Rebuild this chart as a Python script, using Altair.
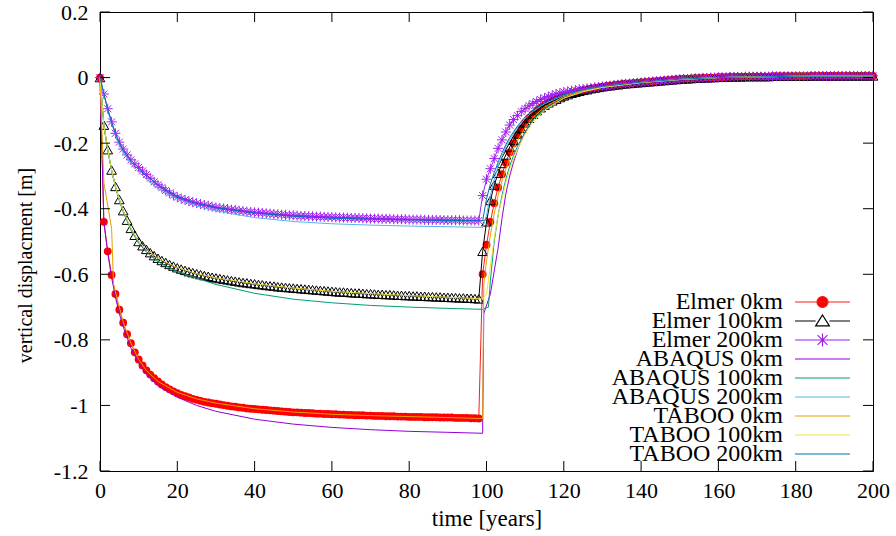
import altair as alt
import pandas as pd

FONT = "Liberation Serif"

# time grid of the Elmer runs (one output per year)
years = list(range(0, 201))

elmer_0km = [
    0.000, -0.440, -0.530, -0.602, -0.660, -0.708, -0.748, -0.783, -0.810, -0.838,
    -0.860, -0.878, -0.893, -0.906, -0.917, -0.927, -0.936, -0.944, -0.951, -0.957,
    -0.963, -0.968, -0.972, -0.976, -0.980, -0.983, -0.986, -0.989, -0.991, -0.993,
    -0.995, -0.997, -0.999, -1.001, -1.003, -1.004, -1.006, -1.007, -1.009, -1.010,
    -1.011, -1.012, -1.013, -1.014, -1.015, -1.016, -1.017, -1.018, -1.019, -1.020,
    -1.021, -1.021, -1.022, -1.023, -1.023, -1.024, -1.025, -1.025, -1.026, -1.026,
    -1.027, -1.027, -1.028, -1.028, -1.029, -1.029, -1.030, -1.030, -1.030, -1.031,
    -1.031, -1.032, -1.032, -1.032, -1.033, -1.033, -1.033, -1.034, -1.034, -1.034,
    -1.035, -1.035, -1.035, -1.035, -1.036, -1.036, -1.036, -1.036, -1.037, -1.037,
    -1.037, -1.037, -1.038, -1.038, -1.038, -1.038, -1.039, -1.039, -1.040, -0.600,
    -0.510, -0.440, -0.383, -0.335, -0.295, -0.260, -0.228, -0.200, -0.176, -0.155,
    -0.138, -0.124, -0.112, -0.101, -0.092, -0.084, -0.077, -0.071, -0.066, -0.061,
    -0.056, -0.052, -0.048, -0.045, -0.042, -0.039, -0.037, -0.034, -0.032, -0.030,
    -0.028, -0.026, -0.025, -0.023, -0.022, -0.020, -0.019, -0.018, -0.017, -0.016,
    -0.015, -0.014, -0.013, -0.012, -0.011, -0.010, -0.009, -0.008, -0.007, -0.006,
    -0.005, -0.004, -0.004, -0.003, -0.002, -0.002, -0.001, -0.001, 0.000, 0.000,
    0.001, 0.001, 0.001, 0.002, 0.002, 0.002, 0.002, 0.003, 0.003, 0.003,
    0.003, 0.003, 0.003, 0.003, 0.004, 0.004, 0.004, 0.004, 0.004, 0.004,
    0.004, 0.004, 0.004, 0.004, 0.005, 0.005, 0.005, 0.005, 0.005, 0.005,
    0.005, 0.005, 0.005, 0.005, 0.005, 0.005, 0.005, 0.005, 0.005, 0.005,
    0.005,
]

elmer_100km = [
    0.000, -0.145, -0.220, -0.282, -0.332, -0.372, -0.406, -0.435, -0.460, -0.481,
    -0.500, -0.513, -0.524, -0.534, -0.543, -0.551, -0.558, -0.564, -0.570, -0.575,
    -0.580, -0.584, -0.588, -0.592, -0.595, -0.598, -0.601, -0.604, -0.606, -0.609,
    -0.611, -0.613, -0.615, -0.617, -0.619, -0.621, -0.623, -0.625, -0.626, -0.628,
    -0.629, -0.631, -0.632, -0.634, -0.635, -0.636, -0.638, -0.639, -0.640, -0.641,
    -0.642, -0.643, -0.644, -0.645, -0.646, -0.647, -0.648, -0.649, -0.650, -0.651,
    -0.652, -0.653, -0.654, -0.654, -0.655, -0.656, -0.657, -0.657, -0.658, -0.659,
    -0.659, -0.660, -0.661, -0.661, -0.662, -0.662, -0.663, -0.664, -0.664, -0.665,
    -0.665, -0.666, -0.666, -0.667, -0.667, -0.668, -0.668, -0.669, -0.669, -0.670,
    -0.670, -0.671, -0.671, -0.672, -0.672, -0.673, -0.673, -0.674, -0.675, -0.530,
    -0.440, -0.375, -0.328, -0.292, -0.262, -0.236, -0.212, -0.191, -0.172, -0.155,
    -0.138, -0.124, -0.112, -0.101, -0.092, -0.084, -0.077, -0.071, -0.066, -0.061,
    -0.056, -0.052, -0.048, -0.045, -0.042, -0.039, -0.037, -0.034, -0.032, -0.030,
    -0.028, -0.026, -0.025, -0.023, -0.022, -0.020, -0.019, -0.018, -0.017, -0.016,
    -0.015, -0.014, -0.013, -0.012, -0.011, -0.010, -0.009, -0.008, -0.007, -0.006,
    -0.005, -0.004, -0.004, -0.003, -0.002, -0.002, -0.001, -0.001, 0.000, 0.000,
    0.001, 0.001, 0.001, 0.002, 0.002, 0.002, 0.002, 0.003, 0.003, 0.003,
    0.003, 0.003, 0.003, 0.003, 0.004, 0.004, 0.004, 0.004, 0.004, 0.004,
    0.004, 0.004, 0.004, 0.004, 0.005, 0.005, 0.005, 0.005, 0.005, 0.005,
    0.005, 0.005, 0.005, 0.005, 0.005, 0.005, 0.005, 0.005, 0.005, 0.005,
    0.005,
]

elmer_200km = [
    0.000, -0.050, -0.095, -0.135, -0.170, -0.197, -0.218, -0.236, -0.251, -0.263,
    -0.274, -0.285, -0.296, -0.307, -0.318, -0.327, -0.336, -0.344, -0.352, -0.359,
    -0.365, -0.369, -0.373, -0.377, -0.380, -0.383, -0.386, -0.389, -0.391, -0.394,
    -0.396, -0.398, -0.399, -0.401, -0.403, -0.404, -0.406, -0.407, -0.409, -0.410,
    -0.411, -0.412, -0.413, -0.414, -0.415, -0.416, -0.417, -0.418, -0.419, -0.420,
    -0.420, -0.421, -0.422, -0.422, -0.423, -0.423, -0.424, -0.424, -0.425, -0.425,
    -0.426, -0.426, -0.427, -0.427, -0.427, -0.428, -0.428, -0.428, -0.429, -0.429,
    -0.430, -0.430, -0.430, -0.431, -0.431, -0.431, -0.432, -0.432, -0.432, -0.432,
    -0.433, -0.433, -0.433, -0.433, -0.434, -0.434, -0.434, -0.434, -0.434, -0.435,
    -0.435, -0.435, -0.435, -0.435, -0.436, -0.436, -0.436, -0.436, -0.436, -0.360,
    -0.310, -0.278, -0.247, -0.216, -0.190, -0.166, -0.145, -0.128, -0.116, -0.104,
    -0.095, -0.086, -0.079, -0.073, -0.067, -0.062, -0.058, -0.054, -0.050, -0.047,
    -0.044, -0.042, -0.040, -0.038, -0.036, -0.035, -0.033, -0.032, -0.030, -0.029,
    -0.027, -0.026, -0.025, -0.023, -0.022, -0.020, -0.019, -0.018, -0.017, -0.016,
    -0.015, -0.014, -0.013, -0.012, -0.011, -0.010, -0.009, -0.008, -0.007, -0.006,
    -0.005, -0.004, -0.004, -0.003, -0.002, -0.002, -0.001, -0.001, 0.000, 0.000,
    0.001, 0.001, 0.001, 0.002, 0.002, 0.002, 0.002, 0.003, 0.003, 0.003,
    0.003, 0.003, 0.003, 0.003, 0.004, 0.004, 0.004, 0.004, 0.004, 0.004,
    0.004, 0.004, 0.004, 0.004, 0.005, 0.005, 0.005, 0.005, 0.005, 0.005,
    0.005, 0.005, 0.005, 0.005, 0.005, 0.005, 0.005, 0.005, 0.005, 0.005,
    0.005,
]

assert len(elmer_0km) == len(elmer_100km) == len(elmer_200km) == len(years)

# ABAQUS reference solutions
abaqus_0km_t = [0, 1, 2, 3, 4, 5, 6, 8, 10, 12, 15, 20, 25, 30, 40, 50, 60, 70, 80, 90, 99,
                99.3, 101, 102, 103, 104, 105, 106, 107, 108, 109, 110, 112, 115, 120, 125,
                130, 140, 150, 160, 180, 200]
abaqus_0km = [0.0, -0.44, -0.535, -0.61, -0.67, -0.72, -0.76, -0.825, -0.87, -0.905, -0.94,
              -0.975, -1.0, -1.018, -1.042, -1.057, -1.067, -1.074, -1.079, -1.082, -1.085,
              -0.72, -0.66, -0.59, -0.52, -0.43, -0.355, -0.30, -0.258, -0.222, -0.192, -0.167,
              -0.13, -0.095, -0.062, -0.042, -0.03, -0.015, -0.006, 0.0, 0.004, 0.005]

abaqus_100km_t = [0, 1, 2, 3, 4, 5, 6, 8, 10, 12, 15, 20, 25, 30, 40, 50, 60, 70, 80, 90, 99,
                  100.5, 101, 102, 103, 104, 105, 106, 107, 108, 110, 112, 115, 120, 125, 130,
                  140, 150, 160, 180, 200]
abaqus_100km = [0.0, -0.147, -0.222, -0.285, -0.335, -0.376, -0.41, -0.465, -0.505, -0.532,
                -0.562, -0.592, -0.612, -0.631, -0.658, -0.676, -0.687, -0.695, -0.70, -0.704,
                -0.707, -0.70, -0.62, -0.50, -0.42, -0.36, -0.31, -0.27, -0.238, -0.21, -0.165,
                -0.13, -0.095, -0.062, -0.042, -0.03, -0.015, -0.006, 0.0, 0.004, 0.005]

abaqus_200km_t = [0, 1, 2, 3, 4, 5, 6, 8, 10, 12, 15, 20, 25, 30, 40, 50, 60, 70, 80, 90, 99,
                  100, 101, 102, 103, 104, 105, 106, 108, 110, 112, 115, 120, 125, 130, 140,
                  150, 160, 180, 200]
abaqus_200km = [0.0, -0.05, -0.10, -0.14, -0.175, -0.205, -0.228, -0.263, -0.288, -0.31, -0.338,
                -0.37, -0.392, -0.407, -0.427, -0.439, -0.446, -0.45, -0.453, -0.455, -0.457,
                -0.42, -0.36, -0.31, -0.27, -0.24, -0.212, -0.19, -0.152, -0.125, -0.103, -0.08,
                -0.054, -0.038, -0.028, -0.015, -0.006, 0.0, 0.004, 0.005]

# TABOO reference solutions
taboo_0km_t = [0, 1, 3, 3.5, 5, 6, 8, 10, 12, 15, 20, 25, 30, 40, 50, 60, 70, 80, 90, 99,
               99.3, 100, 101, 102, 103, 104, 105, 106, 107, 108, 110, 112, 115, 120, 125,
               130, 140, 150, 160, 180, 200]
taboo_0km = [0.0, -0.32, -0.46, -0.63, -0.70, -0.745, -0.81, -0.86, -0.893, -0.927, -0.96,
             -0.98, -0.993, -1.01, -1.02, -1.027, -1.031, -1.034, -1.037, -1.04,
             -0.63, -0.56, -0.48, -0.415, -0.36, -0.315, -0.278, -0.245, -0.217, -0.193,
             -0.152, -0.122, -0.09, -0.058, -0.04, -0.028, -0.015, -0.005, 0.0, 0.004, 0.005]

taboo_100km_t = [0, 1, 2, 3, 4, 5, 6, 8, 10, 12, 15, 20, 25, 30, 40, 50, 60, 70, 80, 90, 99,
                 100, 101, 102, 103, 104, 105, 106, 107, 108, 110, 112, 115, 120, 125, 130,
                 140, 150, 160, 180, 200]
taboo_100km = [0.0, -0.145, -0.22, -0.282, -0.332, -0.372, -0.406, -0.46, -0.50, -0.524, -0.551,
               -0.58, -0.598, -0.611, -0.629, -0.642, -0.652, -0.659, -0.665, -0.67, -0.675,
               -0.66, -0.575, -0.49, -0.42, -0.37, -0.32, -0.28, -0.248, -0.22, -0.172, -0.136,
               -0.099, -0.063, -0.043, -0.03, -0.015, -0.006, 0.0, 0.004, 0.005]

taboo_200km_t = [0, 1, 2, 3, 4, 5, 6, 8, 10, 12, 15, 20, 25, 30, 40, 50, 60, 70, 80, 90, 99,
                 100, 101, 102, 103, 104, 105, 106, 108, 110, 112, 115, 120, 125, 130, 140,
                 150, 160, 180, 200]
taboo_200km = [0.0, -0.05, -0.097, -0.137, -0.172, -0.20, -0.222, -0.256, -0.28, -0.30, -0.327,
               -0.362, -0.383, -0.397, -0.413, -0.423, -0.429, -0.432, -0.434, -0.436, -0.437,
               -0.37, -0.325, -0.29, -0.258, -0.23, -0.205, -0.183, -0.148, -0.12, -0.099,
               -0.077, -0.052, -0.037, -0.027, -0.014, -0.005, 0.0, 0.004, 0.005]

series_names = ["Elmer 0km", "Elmer 100km", "Elmer 200km",
                "ABAQUS 0km", "ABAQUS 100km", "ABAQUS 200km",
                "TABOO 0km", "TABOO 100km", "TABOO 200km"]
series_colors = ["#f02020", "#000000", "#a020f0",
                 "#9400d3", "#009e73", "#56b4e9",
                 "#e69f00", "#f0e442", "#0072b2"]

x_ticks = [0, 20, 40, 60, 80, 100, 120, 140, 160, 180, 200]
y_ticks = [0.2, 0.0, -0.2, -0.4, -0.6, -0.8, -1.0, -1.2]

series_data = [
    (years, elmer_0km), (years, elmer_100km), (years, elmer_200km),
    (abaqus_0km_t, abaqus_0km), (abaqus_100km_t, abaqus_100km), (abaqus_200km_t, abaqus_200km),
    (taboo_0km_t, taboo_0km), (taboo_100km_t, taboo_100km), (taboo_200km_t, taboo_200km),
]

rows = []
for name, (ts, vs) in zip(series_names, series_data):
    for t, v in zip(ts, vs):
        rows.append({"series": name, "t": t, "v": v})
df = pd.DataFrame(rows)

W, H = 773, 459
TICK = 10

x_scale = alt.Scale(domain=[0, 200], nice=False, zero=False)
y_scale = alt.Scale(domain=[-1.2, 0.2], nice=False, zero=False)

x_axis = alt.Axis(
    values=x_ticks, title="time [years]", grid=False, domain=False, ticks=False,
    labelFont=FONT, labelFontSize=22, labelColor="black", labelPadding=9,
    labelFlush=False, labelOverlap=False, format="d",
    titleFont=FONT, titleFontSize=23, titleFontWeight="normal", titleColor="black",
    titlePadding=6,
)
y_axis = alt.Axis(
    values=y_ticks, title="vertical displacment [m]", grid=False, domain=False, ticks=False,
    labelFont=FONT, labelFontSize=22, labelColor="black", labelPadding=12,
    labelFlush=False, labelOverlap=False,
    labelExpr="datum.value < 0 ? '-' + format(-datum.value, '~g') : format(datum.value, '~g')",
    titleFont=FONT, titleFontSize=20, titleFontWeight="normal", titleColor="black",
    titleAngle=270, titleAlign="center", titleBaseline="middle", titleX=-75, titleY=253,
)

X = alt.X("t:Q", scale=x_scale, axis=x_axis)
Y = alt.Y("v:Q", scale=y_scale, axis=y_axis)


def curve(name, color):
    return (
        alt.Chart()
        .transform_filter(alt.datum.series == name)
        .mark_line(color=color, strokeWidth=1)
        .encode(x=X, y=Y)
    )


def markers(name, **mark_kw):
    return (
        alt.Chart()
        .transform_filter(alt.datum.series == name)
        .mark_point(opacity=1, **mark_kw)
        .encode(x=X, y=Y)
    )


star_path = "M-1,0H1M0,-1V1M-0.7,-0.7L0.7,0.7M-0.7,0.7L0.7,-0.7"

layers = [
    curve("Elmer 0km", series_colors[0]),
    markers("Elmer 0km", shape="circle", filled=True, size=62, color="#ff0000", strokeWidth=0),
    curve("Elmer 100km", series_colors[1]),
    markers("Elmer 100km", shape="triangle-up", filled=False, size=95, color="#000000", strokeWidth=1),
    curve("Elmer 200km", series_colors[2]),
    markers("Elmer 200km", shape=star_path, filled=False, size=100, color="#a020f0", strokeWidth=1),
]
for name, color in zip(series_names[3:], series_colors[3:]):
    layers.append(curve(name, color))

# inward tick marks on all four sides of the frame
xt = pd.DataFrame({"t": x_ticks})
yt = pd.DataFrame({"v": y_ticks})
layers += [
    alt.Chart(xt).mark_rule(color="black", strokeWidth=1).encode(x=X, y=alt.value(H), y2=alt.value(H - TICK)),
    alt.Chart(xt).mark_rule(color="black", strokeWidth=1).encode(x=X, y=alt.value(0), y2=alt.value(TICK)),
    alt.Chart(yt).mark_rule(color="black", strokeWidth=1).encode(y=Y, x=alt.value(0), x2=alt.value(TICK)),
    alt.Chart(yt).mark_rule(color="black", strokeWidth=1).encode(y=Y, x=alt.value(W), x2=alt.value(W - TICK)),
]

# key, part one: line samples with the point style of each series
legend_paths = [
    "M-1,0H1M0.2,0A0.2,0.2,0,1,1,-0.2,0A0.2,0.2,0,1,1,0.2,0Z",
    "M-1,0H-0.25M0.25,0H1M0,-0.22L0.25,0.18L-0.25,0.18Z",
    "M-1,0H1M0,-0.24V0.24M-0.18,-0.18L0.18,0.18M-0.18,0.18L0.18,-0.18",
] + ["M-1,0H1"] * 6
legend_fill = ["#ff0000", "#ffffff", "#a020f0"] + series_colors[3:]

KEY_FONT = 24
common = dict(
    title=None, orient="none", legendX=477, legendY=283, padding=0,
    labelFont=FONT, labelFontSize=KEY_FONT, labelLimit=400, symbolSize=3025,
    symbolStrokeWidth=1.2, clipHeight=14, rowPadding=-5.25,
)
key_symbols = alt.Legend(symbolOffset=217, labelOpacity=0, **common)
# key, part two: right-aligned names to the left of the samples
key_names = alt.Legend(symbolOffset=0, symbolOpacity=0, labelAlign="right", labelOffset=149,
                       labelColor="black", labelExpr="trim(datum.label)", **common)

# the name entries carry a trailing blank so that the two keys stay separate
name_entries = [n + " " for n in series_names]
legend_df = pd.DataFrame({"series": series_names, "entry": name_entries})
layers.append(
    alt.Chart(legend_df)
    .mark_point(filled=True, opacity=1, clip=True, size=3025)
    .encode(
        x=alt.value(-400),
        y=alt.value(-400),
        fill=alt.Fill("series:N", scale=alt.Scale(domain=series_names, range=legend_fill), legend=key_symbols),
        stroke=alt.Stroke("series:N", scale=alt.Scale(domain=series_names, range=series_colors), legend=key_symbols),
        shape=alt.Shape("series:N", scale=alt.Scale(domain=series_names, range=legend_paths), legend=key_symbols),
    )
)
layers.append(
    alt.Chart(legend_df)
    .mark_point(filled=True, opacity=1, clip=True, size=3025)
    .encode(
        x=alt.value(-400),
        y=alt.value(-400),
        color=alt.Color("entry:N", scale=alt.Scale(domain=name_entries, range=["#000000"] * 9), legend=key_names),
    )
)

chart = (
    alt.layer(*layers, data=df)
    .properties(
        width=W,
        height=H,
        autosize=alt.AutoSizeParams(type="none"),
        padding={"left": 100, "top": 12, "right": 23, "bottom": 65},
    )
    .configure_view(stroke="black", strokeWidth=1)
)

chart.save("out.html", embed_options={"renderer": "svg", "actions": False})
